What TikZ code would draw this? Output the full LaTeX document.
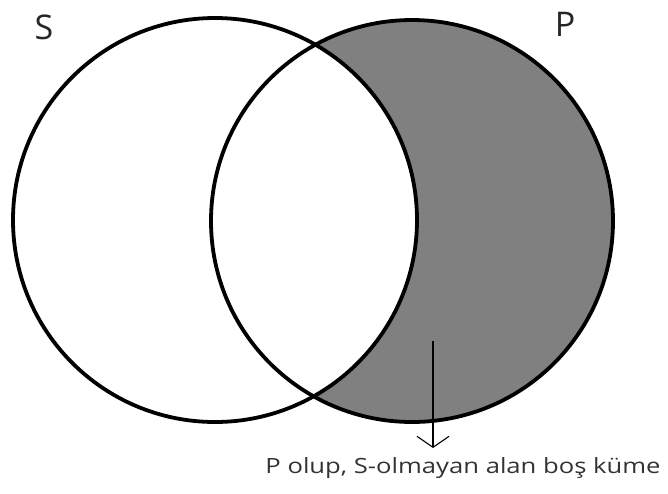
\documentclass[tikz,border=0pt]{standalone}
\usepackage{fontspec}
\setmainfont{Open Sans}
\usetikzlibrary{arrows.meta}
\begin{document}
\begin{tikzpicture}[x=1pt,y=-1pt,
  ring/.style={draw=black,line width=3.8pt},
  lbl/.style={font=\fontsize{34}{34}\selectfont,text=black!85},
  note/.style={font=\fontsize{21}{21}\selectfont,text=black!80}]
\useasboundingbox[fill=white] (0,0) rectangle (668,493);
\coordinate (sc) at (215,220);
\coordinate (pc) at (412,221);
\begin{scope}
  \clip (pc) circle (201);
  \fill[fill={rgb,255:red,128;green,128;blue,128}] (pc) circle (201);
  \fill[white] (sc) circle (202);
\end{scope}
\draw[ring] (sc) circle (202);
\draw[ring] (pc) circle (201);
\node[lbl] (slabel) at (44,27) {S};
\node[lbl] (plabel) at (565,24) {P};
\coordinate (astart) at (433,341);
\node[note,anchor=center] (note) at (463,468) {\scalebox{1.22}[1]{P olup, S-olmayan alan boş küme}};
\coordinate (aend) at (433,448);
\draw[line width=1.2pt,-{Straight Barb[length=11pt,width=32pt,line width=1.1pt]}] (astart) -- (aend);
\end{tikzpicture}
\end{document}
